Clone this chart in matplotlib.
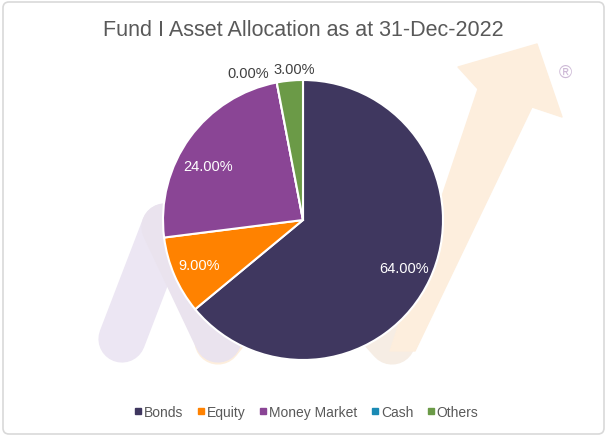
import matplotlib
matplotlib.use("Agg")
import matplotlib.pyplot as plt
from matplotlib.patches import FancyBboxPatch, Polygon
from matplotlib.lines import Line2D
import numpy as np

plt.rcParams['font.family'] = ['Liberation Sans', 'DejaVu Sans']

categories = ["Bonds", "Equity", "Money Market", "Cash", "Others"]
values = [64.0, 9.0, 24.0, 0.0, 3.0]
colors = ["#3F375F", "#FF8200", "#8A4595", "#1A8AB4", "#6B9A47"]
title = "Fund I Asset Allocation as at 31-Dec-2022"

W, H = 610, 439
fig = plt.figure(figsize=(W / 100, H / 100), dpi=100)
ax = fig.add_axes([0, 0, 1, 1])
ax.set_xlim(0, W)
ax.set_ylim(0, H)
ax.axis('off')

def Y(y):
    return H - y

# border
border = FancyBboxPatch((3, Y(435)), 601, 432, boxstyle="round,pad=0,rounding_size=6",
                        fc="white", ec="#D9D9D9", lw=1.2, zorder=0)
ax.add_patch(border)

# faint watermark logo
def stroke(x0, y0, x1, y1, color, lw):
    ax.plot([x0, x1], [Y(y0), Y(y1)], color=color, lw=lw, solid_capstyle='round', zorder=1)

lav = "#ECE6F3"
beige = "#FDEEDD"
stroke(218, 342, 300, 240, beige, 34)
stroke(300, 240, 392, 342, "#F6EDE4", 34)
stroke(122, 340, 165, 228, lav, 34)
stroke(165, 228, 218, 340, "#EAE3EE", 34)
ax.add_patch(Polygon([(390, Y(352)), (478, Y(90)), (458, Y(68)), (537, Y(45)),
                      (562, Y(118)), (532, Y(108)), (415, Y(352))], closed=True,
                     fc=beige, ec=beige, lw=1, zorder=1, joinstyle='round'))
ax.text(565, Y(73), "®", ha='center', va='center', fontsize=13, color="#CDB9D6", zorder=1)

# pie
cx, cy, r = 303, 221, 140
wedges, _ = ax.pie(values, colors=colors, startangle=90, counterclock=False,
                   center=(cx, Y(cy)), radius=r, frame=True,
                   wedgeprops=dict(edgecolor="white", linewidth=1.5))
for w in wedges:
    w.set_zorder(3)
ax.set_xlim(0, W)
ax.set_ylim(0, H)
ax.set_aspect('auto')
ax.axis('off')

# data labels (radial factor, pixel nudges)
label_r = [0.80, 0.81, 0.79, 1.07, 1.08]
label_dx = [0, 0, -5, -6, 5]
label_dy = [0, 0, -11, 0, 0]
label_col = ["white", "white", "white", "#404040", "#404040"]
for w, v, lr, dx, dy, c in zip(wedges, values, label_r, label_dx, label_dy, label_col):
    th = np.deg2rad((w.theta1 + w.theta2) / 2)
    x = cx + lr * r * np.cos(th) + dx
    y = Y(cy) + lr * r * np.sin(th) + dy
    ha = 'right' if v == 0 else 'center'
    ax.text(x, y, f"{v:.2f}%", ha=ha, va='center', fontsize=10.5, color=c, zorder=5)

fig.text(0.497, 1 - 31 / H, title, ha='center', va='center', fontsize=15.5, color="#595959")

handles = [Line2D([], [], marker='s', ls='none', markersize=4, color=c) for c in colors]
fig.legend(handles, categories, loc='center', bbox_to_anchor=(0.502, 1 - 413 / H), ncol=5,
           frameon=False, fontsize=10, labelcolor="#595959", handletextpad=0.1,
           columnspacing=1.0, handlelength=0.6)

fig.savefig("out.png", dpi=100)
